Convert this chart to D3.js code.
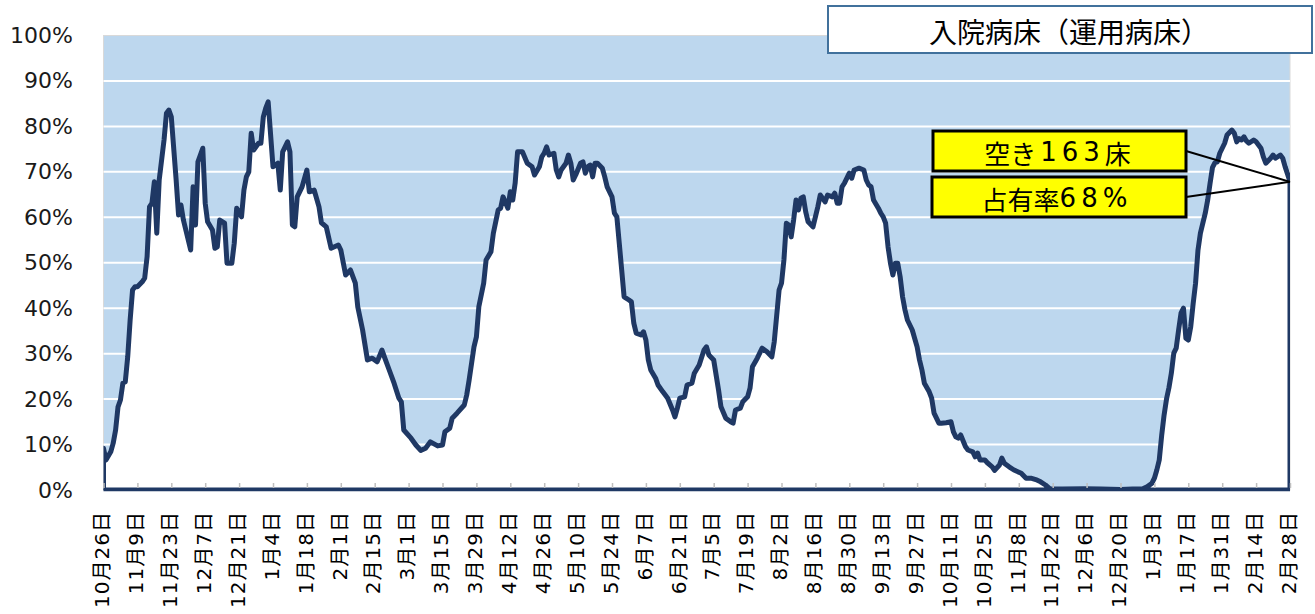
<!DOCTYPE html>
<html><head><meta charset="utf-8">
<script src="https://cdn.jsdelivr.net/npm/d3@7"></script>
<style>body{margin:0;background:#fff;} svg{display:block}</style>
</head><body><svg id="chart" width="1315" height="614"></svg>
<script>
// ---- data ----
const startDate = "2020-10-26";
const dayOffset = [
0,1,3,4,5,6,7,8,9,10,11,12,13,14,16,17,18,19,20,21,22,23,25,26,27,28,30,31,32,33,34,36,37,38,39,40,41,42,43,45,46,47,48,50,51,53,54,55,57,58,59,60,61,62,64,65,66,67,68,70,71,72,73,74,76,77,78,79,
80,82,84,85,87,89,90,92,94,97,98,100,102,104,105,107,109,111,113,115,116,118,120,122,123,124,127,129,131,133,135,138,140,141,143,144,146,149,150,151,153,154,155,157,158,160,161,163,164,165,167,168,169,170,171,173,175,177,178,180,181,182,183,184,186,187,188,189,191,192,193,194,195,197,198,199,200,201,202,203,204,206,207,208,210,211,212,213,214,215,217,218,219,220,222,223,224,225,226,228,229,231,232,233,235,236,237,238,240,241,243,244,246,248,249,250,252,254,255,257,259,260,261,263,264,266,267,268,270,271,272,274,276,277,279,280,281,282,283,284,285,286,287,288,289,290,291,293,294,295,296,298,299,301,302,303,304,305,306,308,309,310,312,314,315,316,317,318,320,321,322,323,324,325,326,327,328,329,330,331,332,334,336,337,338,339,341,342,343,345,346,348,350,351,352,353,354,356,357,359,360,361,362,364,365,367,368,370,371,372,374,376,379,381,383,385,387,389,391,396,405,412,420,425,429,431,433,434,435,436,437,438,439,440,441,442,443,444,445,446,447,448,449,450,451,452,453,454,455,456,457,458,459,460,461,462,463,464,466,467,468,469,470,471,472,473,475,476,478,479,480,482,483,484,486,487,488,489,490];
const occupancy = [
9.2,6.6,8.4,10.3,13.2,18.3,19.8,23.5,23.8,29.3,37.4,44.0,44.7,44.7,45.8,46.6,51.3,62.3,63.1,67.8,56.5,68.2,77.0,82.9,83.6,82.1,68.2,60.5,62.7,59.4,57.2,52.8,66.7,58.3,72.2,73.7,75.2,63.1,59.0,57.2,53.2,53.5,59.4,58.7,49.9,49.9,54.3,62.0,60.1,66.0,68.9,70.0,78.5,74.8,76.3,76.3,82.1,84.0,85.4,71.1,71.5,71.9,66.0,74.4,76.6,74.4,58.3,57.9,
64.5,66.7,70.4,65.6,66.0,62.3,58.8,57.9,53.2,53.9,52.8,47.3,48.4,45.5,40.3,35.2,28.6,29.0,28.2,30.8,29.3,26.4,23.5,20.2,19.4,13.2,11.4,9.9,8.7,9.2,10.6,9.7,9.9,12.8,13.6,15.8,16.9,18.7,20.9,24.2,31.5,33.7,40.3,45.5,50.6,52.4,56.5,61.6,62.0,64.5,62.0,65.6,63.8,67.5,74.4,74.4,71.9,71.1,69.3,71.1,73.3,74.1,75.5,73.7,74.1,70.4,68.9,70.4,71.9,73.7,71.9,68.2,69.3,71.9,72.2,69.7,71.1,71.5,68.9,71.9,71.9,70.8,68.9,66.7,64.5,60.9,60.1,54.3,48.4,42.5,41.8,41.4,36.7,34.5,34.1,34.8,33.0,28.6,26.4,24.6,23.1,21.6,20.9,20.2,17.6,16.1,18.0,20.2,20.5,23.1,23.5,25.7,27.5,30.8,31.5,29.7,28.6,22.0,18.3,15.8,15.0,14.7,17.6,18.0,19.4,20.5,22.4,27.1,29.0,30.1,31.2,30.4,29.3,32.6,44.0,45.5,50.6,58.7,58.3,55.7,59.4,63.8,61.6,64.2,64.5,61.2,59.0,57.9,60.1,62.3,64.9,63.4,64.9,64.5,65.3,63.1,63.1,66.7,67.5,69.7,68.6,70.4,70.8,70.4,68.2,67.1,66.7,63.8,62.0,60.9,60.1,58.7,53.5,49.9,47.3,49.9,49.9,46.9,42.5,39.6,37.4,35.2,31.5,28.6,26.4,23.5,21.6,20.2,16.9,14.7,14.7,14.8,15.0,12.8,11.7,11.4,12.1,9.5,8.8,8.4,7.3,8.1,6.6,6.6,6.0,5.1,4.3,5.5,7.0,5.9,5.1,4.4,3.7,2.6,2.6,2.3,1.8,1.1,0.2,0.2,0.3,0.2,0.1,0.2,0.2,0.7,1.5,2.6,4.4,6.6,12.0,16.5,20.0,22.5,25.7,30.1,31.2,35.2,38.9,40.0,33.4,33.0,35.9,41.0,45.5,52.8,56.5,58.7,60.9,63.8,67.5,71.0,72.0,72.2,74.1,75.2,76.3,78.1,79.2,78.5,76.6,77.3,77.0,77.7,76.8,76.3,77.0,76.6,75.2,73.3,71.9,73.0,73.7,73.0,73.7,73.0,71.1,69.5,67.8];
const xTickLabels = ["10月26日","11月9日","11月23日","12月7日","12月21日","1月4日","1月18日","2月1日","2月15日","3月1日","3月15日","3月29日","4月12日","4月26日","5月10日","5月24日","6月7日","6月21日","7月5日","7月19日","8月2日","8月16日","8月30日","9月13日","9月27日","10月11日","10月25日","11月8日","11月22日","12月6日","12月20日","1月3日","1月17日","1月31日","2月14日","2月28日"];
const yTicks = [0,10,20,30,40,50,60,70,80,90,100];
const titleText = "入院病床（運用病床）";
const calloutBeds = "空き163床";
const calloutRate = "占有率68%";

// ---- layout ----
const plot = {left:103.5, right:1290, top:35.5, bottom:490};
const navy = "#1F3864";
const svg = d3.select("#chart");
const t0 = d3.utcParse("%Y-%m-%d")(startDate);
const tickDates = xTickLabels.map((_, i) => d3.utcDay.offset(t0, i * 14));
const data = dayOffset.map((d, i) => ({date: d3.utcDay.offset(t0, d), v: occupancy[i]}));

const x = d3.scaleUtc().domain([tickDates[0], tickDates[tickDates.length - 1]]).range([plot.left, plot.right]);
const y = d3.scaleLinear().domain([0, 100]).range([plot.bottom, plot.top]);

svg.append("rect").attr("width", 1315).attr("height", 614).attr("fill", "#fff");

// plot background
svg.append("rect").attr("x", plot.left).attr("y", plot.top)
  .attr("width", plot.right - plot.left).attr("height", plot.bottom - plot.top)
  .attr("fill", "#BDD7EE").attr("stroke", "#D9D9D9").attr("stroke-width", 1);

// gridlines
svg.append("g").selectAll("line").data(yTicks.filter(d => d > 0 && d < 100)).join("line")
  .attr("x1", plot.left).attr("x2", plot.right)
  .attr("y1", d => y(d)).attr("y2", d => y(d))
  .attr("stroke", "#fff").attr("stroke-width", 2);

// clip
svg.append("clipPath").attr("id", "plotclip").append("rect")
  .attr("x", plot.left).attr("y", plot.top - 5)
  .attr("width", plot.right - plot.left).attr("height", plot.bottom - plot.top + 5);

const area = d3.area().x(d => x(d.date)).y0(y(0)).y1(d => y(d.v));
svg.append("path").datum(data).attr("d", area)
  .attr("clip-path", "url(#plotclip)")
  .attr("fill", "#fff").attr("stroke", navy).attr("stroke-width", 5)
  .attr("stroke-linejoin", "round");

// x axis
const xAxis = svg.append("g").attr("transform", `translate(0,${plot.bottom})`)
  .call(d3.axisBottom(x).tickValues(tickDates).tickSize(-6).tickFormat((d, i) => xTickLabels[i]));
xAxis.select(".domain").remove();
xAxis.selectAll(".tick line").attr("stroke", "#BFBFBF").attr("stroke-width", 1.5).attr("y1", -2).attr("y2", -7);
xAxis.selectAll(".tick text")
  .attr("x", 0).attr("y", 0).attr("dy", "0.36em")
  .attr("transform", "translate(-2,21) rotate(-90)")
  .style("text-anchor", "end")
  .style("font-family", "'DejaVu Sans','Noto Sans CJK JP',sans-serif")
  .style("font-size", "20px").style("letter-spacing", "1px").attr("fill", "#000");

svg.append("line").attr("x1", plot.left).attr("x2", plot.right)
  .attr("y1", plot.bottom).attr("y2", plot.bottom)
  .attr("stroke", navy).attr("stroke-width", 2.5);

// y axis
const yAxis = svg.append("g").attr("transform", `translate(${plot.left},0)`)
  .call(d3.axisLeft(y).tickValues(yTicks).tickSize(0).tickPadding(30.5).tickFormat(d => d + "%"));
yAxis.select(".domain").remove();
yAxis.selectAll(".tick text")
  .style("font-family", "'DejaVu Sans',sans-serif").style("font-size", "22px").attr("fill", "#1a1a1a");

// title box
svg.append("rect").attr("x", 828).attr("y", 6).attr("width", 484).attr("height", 47)
  .attr("fill", "#fff").attr("stroke", "#41719C").attr("stroke-width", 2);
svg.append("text").attr("x", 1069).attr("y", 30.5).attr("text-anchor", "middle")
  .attr("dominant-baseline", "central")
  .style("font-family", "'Noto Sans CJK JP',sans-serif").style("font-size", "28px")
  .attr("fill", "#000").text(titleText);

// callouts
const last = data[data.length - 1];
const ex = x(last.date), ey = y(last.v);
const boxes = [
  {x: 933, y: 131, w: 253, h: 40, text: calloutBeds},
  {x: 932, y: 177, w: 254, h: 40, text: calloutRate}
];
boxes.forEach(b => {
  svg.append("line").attr("x1", b.x + b.w).attr("y1", b.y + b.h / 2)
    .attr("x2", ex).attr("y2", ey).attr("stroke", "#000").attr("stroke-width", 2);
  svg.append("rect").attr("x", b.x).attr("y", b.y).attr("width", b.w).attr("height", b.h)
    .attr("fill", "#FFFF00").attr("stroke", "#000").attr("stroke-width", 3);
  const t = svg.append("text").attr("x", b.x + b.w / 2 - 2).attr("y", b.y + b.h / 2 + 1)
    .attr("text-anchor", "middle").attr("dominant-baseline", "central")
    .style("font-family", "'DejaVu Sans','Noto Sans CJK JP',sans-serif").style("font-size", "26px")
    .attr("fill", "#000");
  const runs = b.text.match(/[0-9%]+|[^0-9%]+/g);
  runs.forEach((r, i) => {
    const isNum = /^[0-9%]+$/.test(r);
    const ts = t.append("tspan").text(r);
    if (isNum) ts.style("letter-spacing", "5px").style("font-family", "'DejaVu Sans',sans-serif");
    else ts.style("font-family", "'Noto Sans CJK JP',sans-serif");
    if (isNum && i < runs.length - 1) ts.attr("dx", "4");
    if (!isNum && i > 0) ts.attr("dx", "0");
  });
});
</script></body></html>
